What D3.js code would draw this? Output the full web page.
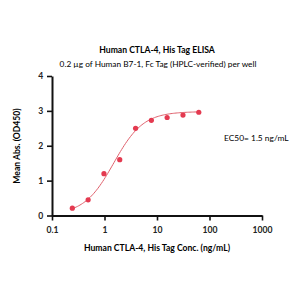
<!DOCTYPE html>
<html><head><meta charset="utf-8">
<script src="https://cdn.jsdelivr.net/npm/d3@7"></script>
<style>body{margin:0;background:#fff}svg{display:block}text{font-family:Lato,"Open Sans",sans-serif}</style>
</head><body>
<svg id="c" width="300" height="300"></svg>
<script>
const conc = [0.244, 0.488, 0.977, 1.95, 3.91, 7.81, 15.6, 31.25, 62.5];
const absVals = [0.21, 0.45, 1.20, 1.60, 2.50, 2.73, 2.81, 2.88, 2.96];
const xTicks = [0.1, 1, 10, 100, 1000];
const xTickLabels = ["0.1", "1", "10", "100", "1000"];
const yTicks = [0, 1, 2, 3, 4];
// 4PL fit parameters (bottom, top, EC50, hill)
const fitBottom = 0.03, fitTop = 2.98, fitEC50 = 1.5, fitHill = 1.55;

const svg = d3.select("#c");
const x = d3.scaleLog().domain([0.1, 1000]).range([52, 262]);
const y = d3.scaleLinear().domain([0, 4]).range([215.5, 76]);

svg.append("text").attr("x", 157).attr("y", 53).attr("text-anchor", "middle")
  .attr("font-size", 8.6).attr("font-weight", "bold").text("Human CTLA-4, His Tag ELISA");
svg.append("text").attr("x", 158).attr("y", 66.5).attr("text-anchor", "middle")
  .attr("font-size", 8.3).text("0.2 µg of Human B7-1, Fc Tag (HPLC-verified) per well");

const xAxis = svg.append("g").attr("transform", "translate(0,215.5)")
  .call(d3.axisBottom(x).tickValues(xTicks).tickFormat((d, i) => xTickLabels[i]).tickSize(5).tickSizeOuter(0));
const yAxis = svg.append("g").attr("transform", "translate(52,0)")
  .call(d3.axisLeft(y).tickValues(yTicks).tickFormat(d3.format("d")).tickSize(5).tickSizeOuter(0));
[xAxis, yAxis].forEach(g => {
  g.select(".domain").attr("stroke", "#111").attr("stroke-width", 2);
  g.selectAll(".tick line").attr("stroke", "#111").attr("stroke-width", 1.6);
  g.selectAll(".tick text").attr("font-size", 8.6).attr("font-weight", "bold").attr("fill", "#222")
   .attr("font-family", "Lato, sans-serif");
});
xAxis.selectAll(".tick text").attr("dy", "1.1em");
yAxis.selectAll(".tick text").attr("dx", "-0.1em");

svg.append("text").attr("x", 157).attr("y", 251).attr("text-anchor", "middle")
  .attr("font-size", 8.6).attr("font-weight", "bold").text("Human CTLA-4, His Tag Conc. (ng/mL)");
svg.append("text").attr("transform", "translate(20,146) rotate(-90)").attr("text-anchor", "middle")
  .attr("font-size", 8.6).attr("font-weight", "bold").text("Mean Abs. (OD450)");

svg.append("text").attr("x", 224).attr("y", 141).attr("font-size", 8.4).text("EC50= 1.5 ng/mL");

const fx = d3.range(0, 101).map(i => Math.pow(10, Math.log10(conc[0]) + i / 100 * (Math.log10(conc[conc.length - 1]) - Math.log10(conc[0]))));
const fit = c => fitBottom + (fitTop - fitBottom) / (1 + Math.pow(fitEC50 / c, fitHill));
svg.append("path").datum(fx)
  .attr("d", d3.line().x(d => x(d)).y(d => y(fit(d))))
  .attr("fill", "none").attr("stroke", "#e0606c").attr("stroke-width", 1);

svg.append("g").selectAll("circle").data(conc).join("circle")
  .attr("cx", d => x(d)).attr("cy", (d, i) => y(absVals[i])).attr("r", 2.6).attr("fill", "#e43a50");
</script>
</body></html>
